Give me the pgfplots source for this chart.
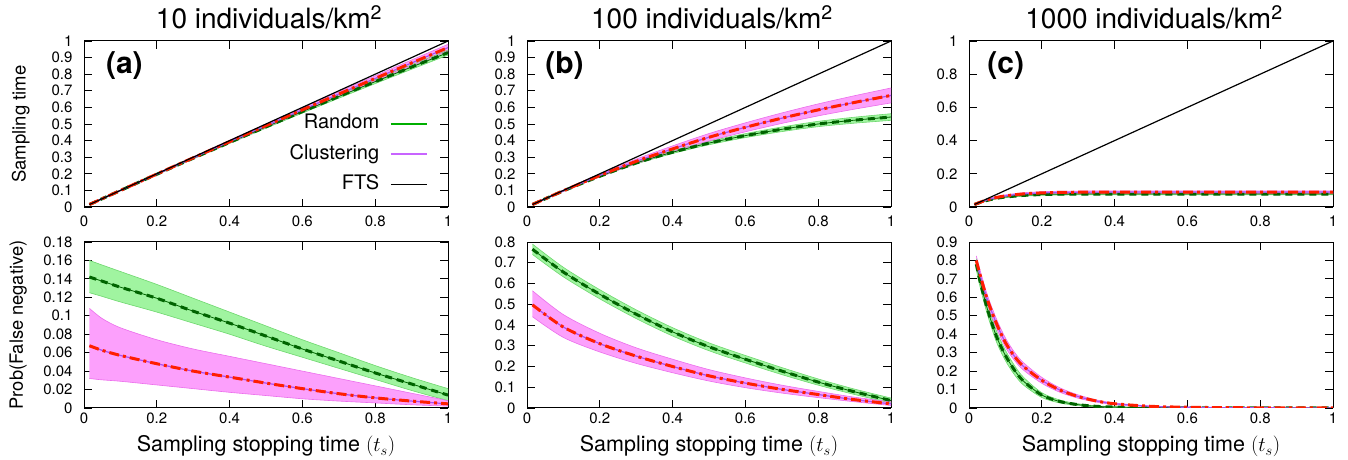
\documentclass[border=0pt]{standalone}
\usepackage{fontspec}
\setmainfont{TeX Gyre Heros}
\usepackage{pgfplots}
\pgfplotsset{compat=1.18}
\usepackage{pgfplotstable}
\usepgfplotslibrary{fillbetween}

\definecolor{rfill}{RGB}{160,244,160}
\definecolor{redge}{RGB}{110,215,110}
\definecolor{cfill}{RGB}{252,160,252}
\definecolor{cedge}{RGB}{235,110,235}
\definecolor{rdark}{RGB}{0,100,0}
\definecolor{violetl}{RGB}{170,80,240}
\definecolor{redl}{RGB}{255,30,0}
\definecolor{rleg}{RGB}{0,175,0}
\definecolor{cleg}{RGB}{200,100,255}

% top row
\pgfplotstableread{
x rm rlo rhi cm clo chi
0.015 0.015 0.0148 0.0152 0.015 0.0147 0.0153
0.1 0.0993 0.0978 0.1008 0.0996 0.0976 0.1016
0.2 0.1972 0.1942 0.2002 0.1984 0.1944 0.2024
0.3 0.2937 0.2892 0.2982 0.2964 0.2904 0.3024
0.4 0.3888 0.3828 0.3948 0.3936 0.3856 0.4016
0.5 0.4825 0.4750 0.4900 0.4900 0.4800 0.5000
0.6 0.5748 0.5658 0.5838 0.5856 0.5736 0.5976
0.7 0.6657 0.6552 0.6762 0.6804 0.6664 0.6944
0.8 0.7552 0.7432 0.7672 0.7744 0.7584 0.7904
0.9 0.8433 0.8298 0.8568 0.8676 0.8496 0.8856
1.0 0.9300 0.9150 0.9450 0.9600 0.9400 0.9800
}\dataAt
\pgfplotstableread{
x rm rlo rhi cm clo chi
0.015 0.015 0.0147 0.0153 0.015 0.0143 0.0157
0.1 0.097 0.095 0.099 0.098 0.0935 0.1025
0.2 0.185 0.181 0.189 0.190 0.181 0.199
0.3 0.265 0.259 0.271 0.275 0.2615 0.2885
0.4 0.330 0.322 0.338 0.350 0.332 0.368
0.5 0.385 0.375 0.395 0.420 0.3975 0.4425
0.6 0.430 0.418 0.442 0.480 0.453 0.507
0.7 0.468 0.454 0.482 0.535 0.5035 0.5665
0.8 0.500 0.484 0.516 0.585 0.549 0.621
0.9 0.523 0.505 0.541 0.630 0.5895 0.6705
1.0 0.542 0.522 0.562 0.672 0.627 0.717
}\dataBt
\pgfplotstableread{
x rm rlo rhi cm clo chi
0.015 0.015 0.014 0.016 0.015 0.014 0.016
0.03 0.027 0.025 0.029 0.028 0.026 0.030
0.05 0.040 0.037 0.043 0.043 0.039 0.047
0.075 0.052 0.048 0.056 0.057 0.052 0.062
0.1 0.060 0.056 0.064 0.067 0.061 0.073
0.15 0.070 0.065 0.075 0.079 0.072 0.086
0.2 0.075 0.070 0.080 0.085 0.078 0.092
0.25 0.077 0.072 0.082 0.088 0.081 0.095
0.3 0.078 0.073 0.083 0.089 0.082 0.096
0.4 0.078 0.073 0.083 0.090 0.083 0.097
0.6 0.078 0.073 0.083 0.090 0.083 0.097
0.8 0.078 0.073 0.083 0.090 0.083 0.097
1.0 0.078 0.073 0.083 0.090 0.083 0.097
}\dataCt
% bottom row
\pgfplotstableread{
x rm rlo rhi cm clo chi
0.015 0.142 0.125 0.160 0.0675 0.032 0.108
0.05 0.1375 0.121 0.155 0.0625 0.0305 0.097
0.1 0.131 0.115 0.148 0.057 0.029 0.087
0.2 0.119 0.104 0.134 0.048 0.025 0.074
0.3 0.105 0.092 0.119 0.040 0.021 0.064
0.4 0.092 0.080 0.104 0.0335 0.017 0.056
0.5 0.078 0.067 0.089 0.027 0.0135 0.048
0.6 0.064 0.055 0.074 0.021 0.010 0.040
0.7 0.051 0.043 0.060 0.0155 0.0075 0.032
0.8 0.038 0.031 0.046 0.011 0.0055 0.024
0.9 0.026 0.019 0.033 0.0075 0.0035 0.016
1.0 0.014 0.008 0.021 0.0045 0.002 0.008
}\dataAb
\pgfplotstableread{
x rm rlo rhi cm clo chi
0.015 0.765 0.740 0.790 0.497 0.440 0.565
0.1 0.655 0.632 0.678 0.390 0.340 0.450
0.2 0.548 0.526 0.570 0.310 0.270 0.360
0.3 0.452 0.431 0.473 0.250 0.215 0.290
0.4 0.367 0.347 0.387 0.200 0.170 0.235
0.5 0.295 0.276 0.314 0.155 0.130 0.185
0.6 0.235 0.217 0.253 0.120 0.098 0.145
0.7 0.178 0.161 0.195 0.090 0.072 0.110
0.8 0.125 0.110 0.140 0.065 0.050 0.080
0.9 0.078 0.065 0.091 0.040 0.030 0.052
1.0 0.036 0.024 0.048 0.020 0.012 0.030
}\dataBb
\pgfplotstableread{
x rm rlo rhi cm clo chi
0.02 0.780 0.750 0.810 0.800 0.775 0.825
0.03 0.690 0.660 0.720 0.725 0.700 0.750
0.05 0.540 0.510 0.570 0.590 0.565 0.615
0.075 0.390 0.360 0.420 0.460 0.435 0.485
0.1 0.285 0.257 0.313 0.355 0.330 0.380
0.125 0.205 0.180 0.230 0.280 0.258 0.302
0.15 0.145 0.124 0.166 0.225 0.205 0.245
0.2 0.070 0.057 0.083 0.150 0.134 0.166
0.25 0.035 0.027 0.043 0.097 0.085 0.109
0.3 0.018 0.013 0.023 0.062 0.053 0.071
0.35 0.009 0.006 0.012 0.038 0.032 0.044
0.4 0.005 0.003 0.007 0.023 0.019 0.027
0.5 0.0015 0.001 0.002 0.009 0.007 0.011
0.6 0.0005 0.0003 0.0007 0.004 0.003 0.005
0.7 0.0002 0.0001 0.0003 0.002 0.0015 0.0025
0.8 0.0001 0.0 0.0002 0.001 0.0007 0.0013
1.0 0.0 0.0 0.0001 0.0005 0.0003 0.0007
}\dataCb

\newcommand{\bands}[1]{%
 \addplot[draw=none, name path=RH, smooth, forget plot] table[x=x,y=rhi]{#1};
 \addplot[draw=none, name path=RL, smooth, forget plot] table[x=x,y=rlo]{#1};
 \addplot[draw=none, name path=CH, smooth, forget plot] table[x=x,y=chi]{#1};
 \addplot[draw=none, name path=CL, smooth, forget plot] table[x=x,y=clo]{#1};
 \addplot[fill=rfill, draw=none, forget plot] fill between[of=RH and RL];
 \addplot[redge, line width=0.6pt, smooth, forget plot] table[x=x,y=rhi]{#1};
 \addplot[redge, line width=0.6pt, smooth, forget plot] table[x=x,y=rlo]{#1};
 \addplot[fill=cfill, draw=none, forget plot] fill between[of=CH and CL];
 \addplot[cedge, line width=0.6pt, smooth, forget plot] table[x=x,y=chi]{#1};
 \addplot[cedge, line width=0.6pt, smooth, forget plot] table[x=x,y=clo]{#1};
 \addplot[rdark, line width=0.8pt, smooth, forget plot] table[x=x,y=rm]{#1};
 \addplot[rdark, line width=3pt, dash pattern=on 7pt off 5pt, smooth, forget plot] table[x=x,y=rm]{#1};
 \addplot[violetl, line width=1.2pt, smooth, forget plot] table[x=x,y=cm]{#1};
 \addplot[redl, line width=3pt, dash pattern=on 10pt off 4pt on 3pt off 4pt, smooth, forget plot] table[x=x,y=cm]{#1};
}

\tikzset{letter/.style={anchor=west, inner sep=0pt, font=\bfseries\fontsize{30}{36}\selectfont}}

\pgfplotsset{
 pan/.style={scale only axis, width=364pt, height=166pt, anchor=south west,
   xmin=0, xmax=1, xtick={0,0.2,0.4,0.6,0.8,1},
   tick align=inside, major tick length=8pt,
   tick style={black, line width=0.8pt},
   axis line style={black, line width=1pt},
   scaled ticks=false,
   /pgf/number format/assume math mode=true,
   tick label style={font=\fontsize{15}{17}\selectfont},
   yticklabel style={xshift=-8pt, /pgf/number format/fixed, /pgf/number format/precision=2},
   clip=true},
 toprow/.style={pan, ymin=0, ymax=1,
   xticklabel style={yshift=-5pt},
   title style={at={(0.5,1)}, anchor=base, xshift=3pt, yshift=6pt, font=\fontsize{28}{33}\selectfont}},
 botrow/.style={pan, ymin=0,
   xticklabel style={yshift=-1pt},
   xlabel={Sampling stopping time $(t_s)$},
   xlabel style={at={(axis description cs:0.5,0)}, anchor=base, yshift=-44pt, font=\fontsize{21.5}{25}\selectfont}},
}

\begin{document}
\begin{tikzpicture}

% ---------- (a) top
\begin{axis}[toprow, at={(84pt,253pt)},
  title={10 individuals/km\textsuperscript{2}},
  ytick={0,0.1,0.2,0.3,0.4,0.5,0.6,0.7,0.8,0.9,1},
  ylabel={Sampling time},
  ylabel style={at={(axis description cs:-0.174,0.5)}, anchor=center, font=\fontsize{18.5}{22}\selectfont},
  legend plot pos=right, legend cell align=right,
  legend style={draw=none, fill=none, at={(axis description cs:0.945,0.575)}, anchor=north east,
    inner sep=0pt, row sep=6.5pt, column sep=8pt, font=\fontsize{20}{22}\selectfont,
    nodes={inner sep=3pt, text height=14pt, text depth=4pt}},
  legend image code/.code={\draw[#1] (0pt,0pt) -- (36pt,0pt);}]
\bands{\dataAt}
\addplot[black, line width=1.2pt, forget plot] coordinates {(0.015,0.015) (1,1)};
\node[letter] at (rel axis cs:0.06,0.855) {(a)};
\addlegendimage{draw=rleg, line width=1.6pt}
\addlegendentry{Random}
\addlegendimage{draw=cleg, line width=1.6pt}
\addlegendentry{Clustering}
\addlegendimage{draw=black, line width=1.5pt}
\addlegendentry{FTS}
\end{axis}

% ---------- (b) top
\begin{axis}[toprow, at={(527pt,253pt)},
  title={100 individuals/km\textsuperscript{2}},
  ytick={0,0.1,0.2,0.3,0.4,0.5,0.6,0.7,0.8,0.9,1}]
\bands{\dataBt}
\addplot[black, line width=1.2pt, forget plot] coordinates {(0.015,0.015) (1,1)};
\node[letter] at (rel axis cs:0.05,0.855) {(b)};
\end{axis}

% ---------- (c) top
\begin{axis}[toprow, at={(969pt,253pt)},
  title={1000 individuals/km\textsuperscript{2}},
  ytick={0,0.2,0.4,0.6,0.8,1}]
\bands{\dataCt}
\addplot[black, line width=1.2pt, forget plot] coordinates {(0.015,0.015) (1,1)};
\node[letter] at (rel axis cs:0.05,0.855) {(c)};
\end{axis}

% ---------- (a) bottom
\begin{axis}[botrow, at={(84pt,52pt)}, ymax=0.18,
  ytick={0,0.02,0.04,0.06,0.08,0.1,0.12,0.14,0.16,0.18},
  ylabel={Prob(False negative)},
  ylabel style={at={(axis description cs:-0.181,0.5)}, anchor=center, font=\fontsize{18.3}{22}\selectfont}]
\bands{\dataAb}
\end{axis}

% ---------- (b) bottom
\begin{axis}[botrow, at={(527pt,52pt)}, ymax=0.8,
  ytick={0,0.1,0.2,0.3,0.4,0.5,0.6,0.7,0.8}]
\bands{\dataBb}
\end{axis}

% ---------- (c) bottom
\begin{axis}[botrow, at={(969pt,52pt)}, ymax=0.9,
  ytick={0,0.1,0.2,0.3,0.4,0.5,0.6,0.7,0.8,0.9}]
\bands{\dataCb}
\end{axis}

\pgfresetboundingbox
\path[use as bounding box] (0pt,0pt) rectangle (1348pt,460pt);
\end{tikzpicture}
\end{document}
